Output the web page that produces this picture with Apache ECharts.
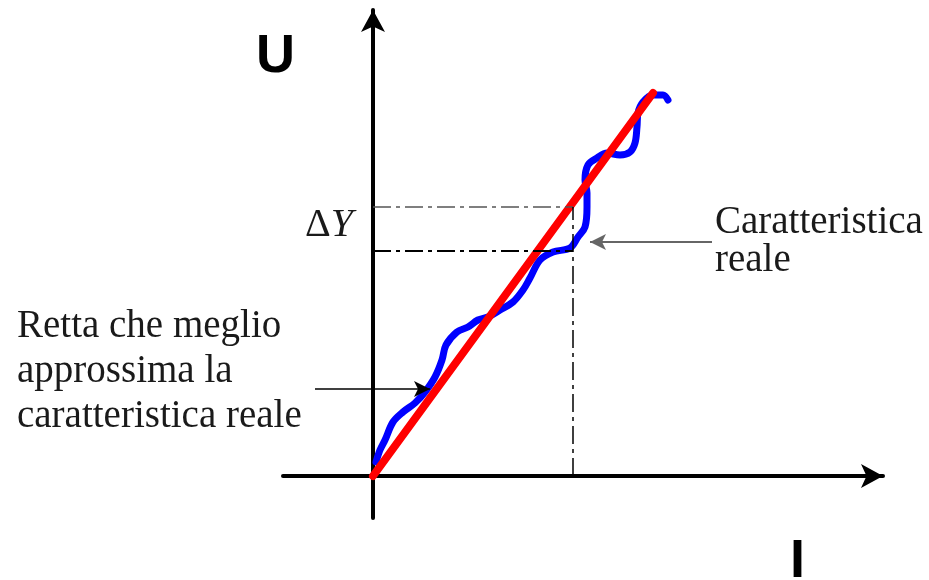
<!DOCTYPE html>
<html>
<head>
<meta charset="utf-8">
<title>Caratteristica reale</title>
<script src="https://cdn.jsdelivr.net/npm/echarts@6/dist/echarts.min.js"></script>
<style>
  html, body { margin: 0; padding: 0; background: #fff; }
  #chart { width: 929px; height: 580px; }
</style>
</head>
<body>
<div id="chart"></div>
<script>
// Axis names: current on the horizontal axis, voltage on the vertical one
const axisNames = ['I', 'U'];

// Straight line that best approximates the real characteristic
const fitLine = [[0, 0], [280, 383]];

// Measured (real) characteristic, wavy around the fit line
const realCurve = [
  [3, 14], [7, 26], [12, 36], [20, 54], [30, 64], [42, 73], [52, 84],
  [62, 99], [69, 116], [73, 131], [84, 144], [95, 149], [105, 156],
  [115, 159], [127, 166], [140, 174], [150, 186], [157, 198], [167, 216],
  [180, 224], [197, 228], [205, 239], [212, 249], [214, 269], [214, 283],
  [212, 296], [215, 311], [224, 318], [234, 323], [247, 321], [257, 324],
  [262, 333], [264, 349], [265, 363], [270, 374], [280, 381], [290, 381],
  [295, 376]
];

// Delta Y guide levels (lower, upper) and the abscissa of the vertical guide
const deltaLevels = [225, 269];
const guideX = 200;

// Annotation arrows: [from, to]
const realArrow = [[339, 234], [217, 234]];
const fitArrow = [[-58, 87], [57, 87]];

// Annotation texts
const realText = 'Caratteristica\nreale';
const fitText = 'Retta che meglio\napprossima la\ncaratteristica reale';
const deltaText = '{d|\u0394}{y|Y}';

const chart = echarts.init(document.getElementById('chart'), null, { renderer: 'canvas' });

const dashDot = [18, 5, 4, 5];
const serif = '"Liberation Serif", "Times New Roman", serif';

function arrowLine(pts, color, width) {
  return [
    { coord: pts[0], symbol: 'none' },
    { coord: pts[1], symbol: 'arrow', symbolSize: [12, 16], lineStyle: { color: color, width: width, type: 'solid' } }
  ];
}

const option = {
  animation: false,
  backgroundColor: '#ffffff',
  grid: { left: 283, right: 46, top: 10, bottom: 62, containLabel: false },
  xAxis: {
    type: 'value', min: -90, max: 510,
    axisLine: { show: true, onZero: true, symbol: ['none', 'arrow'], symbolSize: [18, 22], lineStyle: { color: '#000', width: 4 } },
    axisTick: { show: false }, axisLabel: { show: false }, splitLine: { show: false }
  },
  yAxis: {
    type: 'value', min: -42, max: 466,
    axisLine: { show: true, onZero: true, symbol: ['none', 'arrow'], symbolSize: [18, 22], lineStyle: { color: '#000', width: 4 } },
    axisTick: { show: false }, axisLabel: { show: false }, splitLine: { show: false }
  },
  series: [
    {
      name: 'guides',
      type: 'line',
      data: [],
      silent: true,
      markLine: {
        silent: true,
        animation: false,
        symbol: ['none', 'none'],
        label: { show: false },
        data: [
          [
            { coord: [0, deltaLevels[1]], lineStyle: { color: '#555', width: 1.5, type: dashDot } },
            { coord: [guideX, deltaLevels[1]] }
          ],
          [
            { coord: [0, deltaLevels[0]], lineStyle: { color: '#000', width: 2, type: dashDot } },
            { coord: [guideX, deltaLevels[0]] }
          ],
          [
            { coord: [guideX, 0], lineStyle: { color: '#000', width: 1.5, type: dashDot } },
            { coord: [guideX, deltaLevels[1]] }
          ],
          arrowLine(realArrow, '#666', 2),
          arrowLine(fitArrow, '#000', 1.5)
        ]
      }
    },
    {
      name: 'Caratteristica reale',
      type: 'line',
      data: realCurve,
      smooth: 0.35,
      showSymbol: false,
      lineStyle: { color: '#0000ff', width: 7, cap: 'round', join: 'round' },
      z: 3
    },
    {
      name: 'Retta',
      type: 'line',
      data: fitLine,
      showSymbol: false,
      lineStyle: { color: '#ff0000', width: 8, cap: 'round' },
      z: 4
    }
  ],
  graphic: [
    {
      type: 'text', left: 715, top: 203,
      style: { text: realText, font: '39px ' + serif, lineHeight: 38, fill: '#1a1a1a' }
    },
    {
      type: 'text', left: 17, top: 304,
      style: { text: fitText, font: '39px ' + serif, lineHeight: 45, fill: '#1a1a1a' }
    },
    {
      type: 'text', left: 305, top: 205,
      style: {
        text: deltaText, fill: '#1a1a1a',
        rich: {
          d: { fontFamily: serif, fontSize: 40, lineHeight: 40 },
          y: { fontFamily: serif, fontSize: 40, fontStyle: 'italic', lineHeight: 40 }
        }
      }
    },
    {
      type: 'text', left: 256, top: 30,
      style: { text: axisNames[1], font: 'bold 54px "Liberation Sans", Arial, sans-serif', fill: '#000' }
    },
    {
      type: 'text', left: 790, top: 535,
      style: { text: axisNames[0], font: 'bold 54px "Liberation Sans", Arial, sans-serif', fill: '#000' }
    }
  ]
};

chart.setOption(option);
</script>
</body>
</html>
